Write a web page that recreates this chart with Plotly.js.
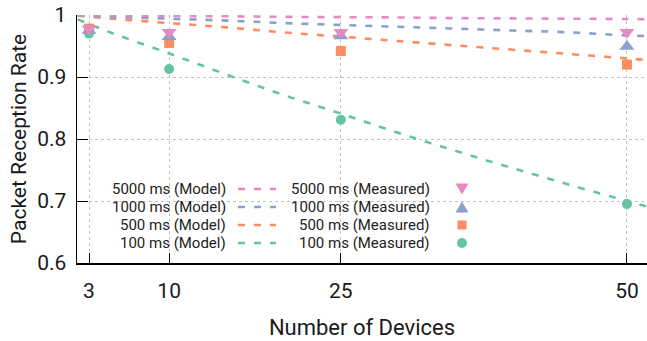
<!DOCTYPE html>
<html>
<head>
<meta charset="utf-8">
<script src="https://cdn.plot.ly/plotly-3.0.1.min.js"></script>
<style>html,body{margin:0;padding:0;background:#fff;}#chart{width:647px;height:341px;}</style>
</head>
<body>
<div id="chart"></div>
<script>
// ---- data ----
const xModel = [2, 5, 10, 15, 20, 25, 30, 35, 40, 45, 50, 52];
const model5000 = [1.0, 0.9995, 0.9985, 0.998, 0.997, 0.9965, 0.996, 0.995, 0.9945, 0.994, 0.9935, 0.993];
const model1000 = [0.9995, 0.997, 0.994, 0.991, 0.987, 0.984, 0.981, 0.978, 0.975, 0.972, 0.967, 0.966];
const model500  = [0.999, 0.994, 0.987, 0.980, 0.972, 0.965, 0.958, 0.951, 0.944, 0.937, 0.930, 0.927];
const model100  = [0.993, 0.971, 0.938, 0.904, 0.871, 0.841, 0.810, 0.781, 0.753, 0.726, 0.700, 0.690];

const xMeasured = [3, 10, 25, 50];
const meas5000 = [0.978, 0.972, 0.972, 0.972];
const meas1000 = [0.975, 0.965, 0.966, 0.949];
const meas500  = [0.978, 0.955, 0.942, 0.920];
const meas100  = [0.970, 0.913, 0.831, 0.695];

const xTicks = [3, 10, 25, 50];
const yTicks = [0.6, 0.7, 0.8, 0.9, 1];
const yTickText = ['0.6', '0.7', '0.8', '0.9', '1'];

const modelNames = ['5000 ms (Model)', '1000 ms (Model)', '500 ms (Model)', '100 ms (Model)'];
const measNames = ['5000 ms (Measured)', '1000 ms (Measured)', '500 ms (Measured)', '100 ms (Measured)'];

// ---- styles ----
const colors = ['#e78ac3', '#8da0cb', '#fc8d62', '#66c2a5'];
const symbols = ['triangle-down', 'triangle-up', 'square', 'circle'];
const mSizes = [13, 13, 10, 10];
const FONT = 'Roboto, "Open Sans", sans-serif';

const models = [model5000, model1000, model500, model100];
const meas = [meas5000, meas1000, meas500, meas100];

const traces = [];
for (let i = 3; i >= 0; i--) {
  traces.push({
    x: xModel, y: models[i], type: 'scatter', mode: 'lines', name: modelNames[i],
    line: {color: colors[i], width: 2.6, dash: '7px,9px', shape: 'spline'},
    hoverinfo: 'skip', showlegend: false
  });
}
for (let i = 3; i >= 0; i--) {
  traces.push({
    x: xMeasured, y: meas[i], type: 'scatter', mode: 'markers', name: measNames[i],
    marker: {color: colors[i], symbol: symbols[i], size: mSizes[i], line: {width: 0}},
    cliponaxis: false, showlegend: false
  });
}

// plot area pixel geometry
const L = 77, R = 647, T = 15, B = 263;
const px = v => (v - L) / (R - L);
const py = v => (B - v) / (B - T);

const shapes = [];
const annotations = [];
shapes.push({type: 'rect', xref: 'paper', yref: 'paper', layer: 'between',
  x0: px(91), x1: px(494), y0: py(262), y1: py(181),
  fillcolor: '#ffffff', line: {width: 0}});
const rowY = [189, 207, 225, 243];
for (let i = 0; i < 4; i++) {
  const y = rowY[i];
  annotations.push({xref: 'paper', yref: 'paper', x: px(228), y: py(y), xanchor: 'right', yanchor: 'middle',
    text: modelNames[i], showarrow: false, font: {family: FONT, size: 15, color: '#222'}});
  annotations.push({xref: 'paper', yref: 'paper', x: px(432), y: py(y), xanchor: 'right', yanchor: 'middle',
    text: measNames[i], showarrow: false, font: {family: FONT, size: 15, color: '#222'}});
  shapes.push({type: 'line', xref: 'paper', yref: 'paper', x0: px(238), x1: px(276), y0: py(y), y1: py(y),
    line: {color: colors[i], width: 2.6, dash: '7px,9px'}});
}
const mx = 462;
const tri = (cy, up) => {
  const h = 11, w = 13;
  if (up) return `M ${px(mx)} ${py(cy - h/2)} L ${px(mx + w/2)} ${py(cy + h/2)} L ${px(mx - w/2)} ${py(cy + h/2)} Z`;
  return `M ${px(mx)} ${py(cy + h/2)} L ${px(mx + w/2)} ${py(cy - h/2)} L ${px(mx - w/2)} ${py(cy - h/2)} Z`;
};
shapes.push({type: 'path', xref: 'paper', yref: 'paper', path: tri(rowY[0], false), fillcolor: colors[0], line: {width: 0}});
shapes.push({type: 'path', xref: 'paper', yref: 'paper', path: tri(rowY[1], true), fillcolor: colors[1], line: {width: 0}});
shapes.push({type: 'rect', xref: 'paper', yref: 'paper', x0: px(mx - 4.5), x1: px(mx + 4.5), y0: py(rowY[2] + 4.5), y1: py(rowY[2] - 4.5), fillcolor: colors[2], line: {width: 0}});
shapes.push({type: 'circle', xref: 'paper', yref: 'paper', x0: px(mx - 5), x1: px(mx + 5), y0: py(rowY[3] + 5), y1: py(rowY[3] - 5), fillcolor: colors[3], line: {width: 0}});

const layout = {
  width: 647, height: 341,
  margin: {l: L, r: 647 - R, t: T, b: 341 - B, pad: 0},
  paper_bgcolor: '#fff', plot_bgcolor: '#fff',
  font: {family: FONT, color: '#1a1a1a'},
  showlegend: false,
  xaxis: {
    range: [1.95, 51.75], tickvals: xTicks, ticktext: xTicks.map(String),
    ticks: 'inside', ticklen: 10, tickwidth: 1, tickcolor: '#000', ticklabelstandoff: 8,
    showline: true, linecolor: '#000', linewidth: 1.5, mirror: false,
    showgrid: true, gridcolor: '#c2c2c2', griddash: 'dot', gridwidth: 1,
    zeroline: false, tickfont: {family: FONT, size: 21, color: '#1a1a1a'},
    title: {text: 'Number of Devices', font: {family: FONT, size: 22, color: '#1a1a1a'}, standoff: 18}
  },
  yaxis: {
    range: [0.6, 1.0], tickvals: yTicks, ticktext: yTickText,
    ticks: 'inside', ticklen: 11, tickwidth: 1, tickcolor: '#000', ticklabelstandoff: 5,
    showline: true, linecolor: '#000', linewidth: 1.5, mirror: false,
    showgrid: true, gridcolor: '#c2c2c2', griddash: 'dot', gridwidth: 1,
    zeroline: false, tickfont: {family: FONT, size: 21, color: '#1a1a1a'},
    title: {text: 'Packet Reception Rate', font: {family: FONT, size: 21, color: '#1a1a1a'}, standoff: 5}
  },
  shapes: shapes,
  annotations: annotations
};

Plotly.newPlot('chart', traces, layout, {displayModeBar: false, staticPlot: true});
</script>
</body>
</html>
